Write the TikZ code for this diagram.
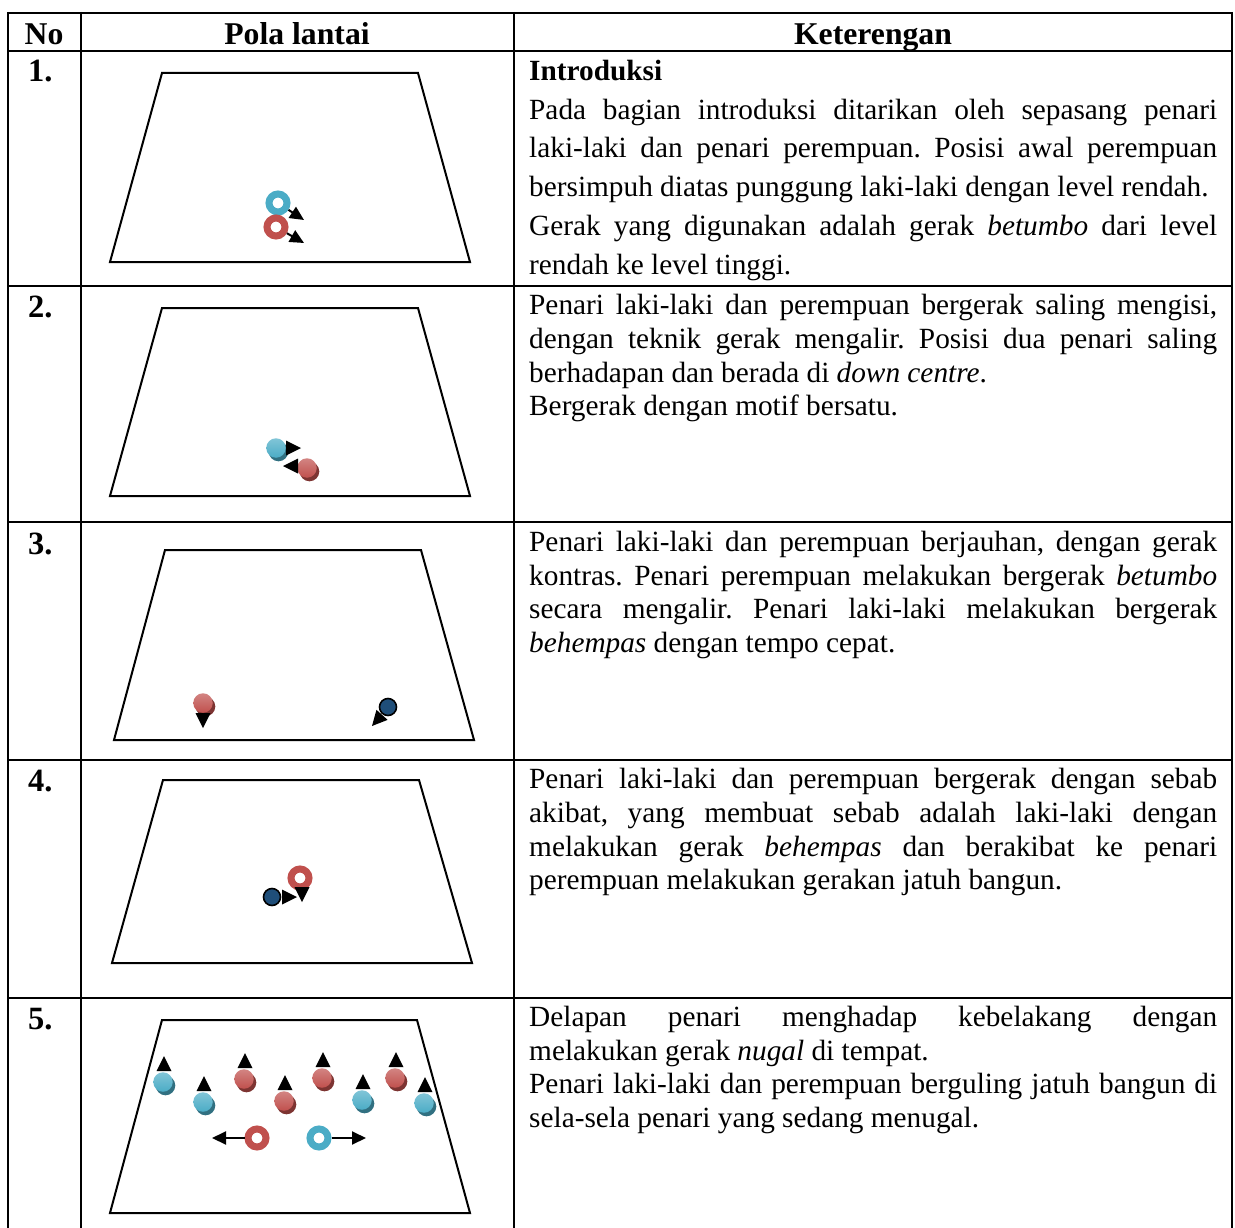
\documentclass[tikz,border=0pt]{standalone}
\usepackage{fontspec}
\setmainfont{Liberation Serif}
\usetikzlibrary{arrows.meta}
\frenchspacing

\definecolor{dancerC}{HTML}{4BACC6}
\definecolor{dancerR}{HTML}{C0504D}
\definecolor{dancerN}{HTML}{1F4E79}

\newcommand\bodyfont{\fontsize{29.3}{36}\selectfont}
\newcommand\headfont{\fontsize{31.7}{38}\selectfont\bfseries}
\newcommand\numfont{\fontsize{32.5}{38}\selectfont\bfseries}
% a justified line of the description column
\newcommand\jline[1]{\makebox[688pt][s]{#1}}
% a shaded dancer marker with its shadow: name, colour, x, y
\newcommand\dancer[4]{%
  \fill[#2!65!black] (#3+2.5,#4+3.5) circle (9.8pt);
  \node[ball=#2] (#1) at (#3,#4) {};}

\begin{document}
\begin{tikzpicture}[x=1pt,y=-1pt,
  grid/.style={line width=2pt},
  floor/.style={line width=2pt, line join=miter},
  txt/.style={anchor=base west, inner sep=0pt, font=\bodyfont},
  head/.style={anchor=base, inner sep=0pt, font=\headfont},
  num/.style={anchor=base west, inner sep=0pt, font=\numfont},
  ring/.style={circle, draw=#1, line width=7pt, fill=white, minimum size=18pt, inner sep=0pt},
  ball/.style={circle, inner sep=0pt, minimum size=19.5pt, top color=#1!70!white, bottom color=#1},
  solo/.style={circle, draw=black, line width=1.6pt, fill=dancerN, minimum size=17pt, inner sep=0pt},
  dir/.style={line width=2pt, -{Triangle[length=14pt,width=13pt]}},
  tri/.pic={\fill (0,0) -- (-15,-7.5) -- (-15,7.5) -- cycle;},
]
\useasboundingbox (0,0) rectangle (1235,1228);

% ---- table rules
\draw[grid] (8,13) -- (1232,13);
\foreach \yy in {51.5,285.5,522,760,998} \draw[grid] (8,\yy) -- (1232,\yy);
\foreach \xx in {8,80.5,514,1232} \draw[grid] (\xx,12) -- (\xx,1232);

% ---- header
\node[head] (hNo)  at (44,45)  {No};
\node[head] (hPola) at (297,45) {Pola lantai};
\node[head] (hKet) at (873,45) {Keterengan};

% ---- row numbers
\node[num] (n1) at (28,82)   {1.};
\node[num] (n2) at (28,317)  {2.};
\node[num] (n3) at (28,554)  {3.};
\node[num] (n4) at (28,791)  {4.};
\node[num] (n5) at (28,1029) {5.};

% ---- stage floors
\draw[floor] (162,73) -- (418,73) -- (470,262) -- (110,262) -- cycle;
\draw[floor] (162,308) -- (418,308) -- (470,496) -- (110,496) -- cycle;
\draw[floor] (165,550) -- (421,550) -- (474,740) -- (114,740) -- cycle;
\draw[floor] (163,780) -- (419,780) -- (472,963) -- (112,963) -- cycle;
\draw[floor] (162,1020) -- (417,1020) -- (470,1213) -- (110,1213) -- cycle;

% ---- row 1: introduction pair
\node[ring=dancerC] (r1c) at (278,203) {};
\node[ring=dancerR] (r1r) at (276,227) {};
\coordinate (r1ct) at (304,220);
\coordinate (r1rt) at (304,243);
\draw[dir] (r1c) -- (r1ct);
\draw[dir] (r1r) -- (r1rt);

% ---- row 2: facing pair at down centre
\dancer{r2c}{dancerC}{276}{448}
\pic at (301,448) {tri};
\dancer{r2r}{dancerR}{307}{468}
\pic[rotate=180] at (283,466) {tri};

% ---- row 3: dancers apart
\dancer{r3r}{dancerR}{203}{703}
\pic[rotate=-90] at (203,728) {tri};
\node[solo] (r3n) at (388,707) {};
\pic[rotate=-132] at (372,726) {tri};

% ---- row 4: cause and effect
\node[solo] (r4n) at (272,897) {};
\pic at (297,897) {tri};
\node[ring=dancerR] (r4r) at (300,878) {};
\pic[rotate=-90] at (302,902) {tri};

% ---- row 5: eight dancers facing back, pair rolling outwards
\foreach \nm/\cl/\xx/\yy in {a/dancerC/163/1082, b/dancerC/203/1102, c/dancerR/244/1079,
    d/dancerR/284/1101, e/dancerR/322/1078, f/dancerC/362/1100, g/dancerR/395/1078,
    h/dancerC/424/1103}{
  \dancer{r5\nm}{\cl}{\xx}{\yy}
  \pic[rotate=90] at (\xx+1,\yy-26) {tri};
}
\node[ring=dancerR] (r5r) at (257,1138) {};
\node[ring=dancerC] (r5c) at (319,1138) {};
\coordinate (r5rt) at (212,1138);
\coordinate (r5ct) at (366,1138);
\draw[dir] (r5r) -- (r5rt);
\draw[dir] (r5c) -- (r5ct);

% ---- descriptions
\node[txt] (d1a) at (529,81)  {\textbf{Introduksi}};
\node[txt] (d1b) at (529,119.5) {\jline{Pada bagian introduksi ditarikan oleh sepasang penari}};
\node[txt] (d1c) at (529,158) {\jline{laki-laki dan penari perempuan. Posisi awal perempuan}};
\node[txt] (d1d) at (529,196.5) {bersimpuh diatas punggung laki-laki dengan level rendah.};
\node[txt] (d1e) at (529,235) {\jline{Gerak yang digunakan adalah gerak \textit{betumbo} dari level}};
\node[txt] (d1f) at (529,274) {rendah ke level tinggi.};

\node[txt] (d2a) at (529,314) {\jline{Penari laki-laki dan perempuan bergerak saling mengisi,}};
\node[txt] (d2b) at (529,348) {\jline{dengan teknik gerak mengalir. Posisi dua penari saling}};
\node[txt] (d2c) at (529,382) {berhadapan dan berada di \textit{down centre}.};
\node[txt] (d2d) at (529,415) {Bergerak dengan motif bersatu.};

\node[txt] (d3a) at (529,551) {\jline{Penari laki-laki dan perempuan berjauhan, dengan gerak}};
\node[txt] (d3b) at (529,585) {\jline{kontras. Penari perempuan melakukan bergerak \textit{betumbo}}};
\node[txt] (d3c) at (529,618) {\jline{secara mengalir. Penari laki-laki melakukan bergerak}};
\node[txt] (d3d) at (529,652) {\textit{behempas} dengan tempo cepat.};

\node[txt] (d4a) at (529,788) {\jline{Penari laki-laki dan perempuan bergerak dengan sebab}};
\node[txt] (d4b) at (529,822) {\jline{akibat, yang membuat sebab adalah laki-laki dengan}};
\node[txt] (d4c) at (529,856) {\jline{melakukan gerak \textit{behempas} dan berakibat ke penari}};
\node[txt] (d4d) at (529,889) {perempuan melakukan gerakan jatuh bangun.};

\node[txt] (d5a) at (529,1026) {\jline{Delapan penari menghadap kebelakang dengan}};
\node[txt] (d5b) at (529,1060) {melakukan gerak \textit{nugal} di tempat.};
\node[txt] (d5c) at (529,1093) {\jline{Penari laki-laki dan perempuan berguling jatuh bangun di}};
\node[txt] (d5d) at (529,1127) {sela-sela penari yang sedang menugal.};
\end{tikzpicture}
\end{document}
